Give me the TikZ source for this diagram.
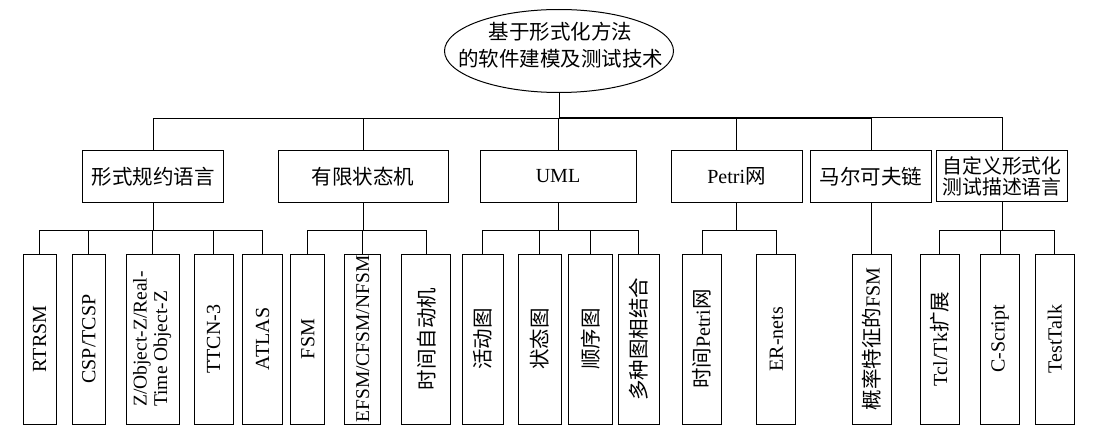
\documentclass[tikz,border=0pt]{standalone}
\usepackage{fontspec}
\usepackage{graphicx}
\setmainfont{Liberation Serif}
\newfontfamily\cjk[Scale=1.025]{Noto Sans CJK SC}
\usetikzlibrary{shapes.geometric}
\newcommand{\zh}[1]{{\cjk #1}}
\newcommand{\vtext}[1]{\rotatebox{90}{#1}}

\begin{document}
\begin{tikzpicture}[x=1pt, y=-1pt, line width=1pt,
    font=\fontsize{20}{24}\selectfont,
    mid/.style={draw, minimum height=51.6pt, inner sep=0pt, align=center},
    leaf/.style={draw, minimum height=170pt, inner sep=0pt},
    busedge/.style={to path={(\tikztostart.south) |- ([yshift=#1]\tikztotarget.north) -- (\tikztotarget.north)}}]
    \useasboundingbox (0,0) rectangle (1097,433);

    \node[draw, ellipse, minimum width=229pt, minimum height=83pt, inner sep=0pt,
      label={[align=center, font=\fontsize{20}{26.7}\selectfont, yshift=6pt, xshift=1.5pt]center:\zh{基于形式化方法}\\\zh{的软件建模及测试技术}}]
      (root) at (559,51) {};

    \node[mid, minimum width=141pt] (formal) at (153,176.5) {\zh{形式规约语言}};
    \node[mid, minimum width=170pt] (finite) at (363,176.5) {\zh{有限状态机}};
    \node[mid, minimum width=156pt] (uml) at (558,176.5) {UML};
    \node[mid, minimum width=131pt] (petri) at (736.5,176.5) {Petri\zh{网}};
    \node[mid, minimum width=121.5pt] (markov) at (871,176.5) {\zh{马尔可夫链}};
    \node[mid, minimum width=131pt, font=\fontsize{19.4}{21}\selectfont] (custom) at (1002,176)
      {\zh{自定义形式化}\\\zh{测试描述语言}};

    \node[leaf, minimum width=32.7pt] (rtrsm) at (39.7,339) {\vtext{RTRSM}};
    \node[leaf, minimum width=33pt] (csp) at (88.8,339) {\vtext{CSP/TCSP}};
    \node[leaf, minimum width=53.3pt] (objz) at (152.7,339)
      {\vtext{\fontsize{19.5}{20.5}\selectfont\begin{tabular}{@{}l@{}}Z/Object-Z/Real-\\Time Object-Z\end{tabular}}};
    \node[leaf, minimum width=39.3pt] (ttcn) at (213.7,339) {\vtext{TTCN-3}};
    \node[leaf, minimum width=40pt] (atlas) at (262.7,339) {\vtext{ATLAS}};
    \node[leaf, minimum width=34.3pt] (fsm) at (307.8,339) {\vtext{FSM}};
    \node[leaf, minimum width=35.7pt, font=\fontsize{19.5}{24}\selectfont] (efsm) at (362.7,339) {\vtext{EFSM/CFSM/NFSM}};
    \node[leaf, minimum width=49pt] (timedauto) at (426.2,339) {\vtext{\zh{时间自动机}}};
    \node[leaf, minimum width=41pt] (activity) at (482.8,339) {\vtext{\zh{活动图}}};
    \node[leaf, minimum width=43.3pt] (state) at (539.7,339) {\vtext{\zh{状态图}}};
    \node[leaf, minimum width=44pt] (sequence) at (590.7,339) {\vtext{\zh{顺序图}}};
    \node[leaf, minimum width=41pt] (combined) at (638.8,339) {\vtext{\zh{多种图相结合}}};
    \node[leaf, minimum width=39pt] (timedpetri) at (702.2,339) {\vtext{\zh{时间}Petri\zh{网}}};
    \node[leaf, minimum width=39.3pt] (ernets) at (776.3,339) {\vtext{ER-nets}};
    \node[leaf, minimum width=38.7pt] (probfsm) at (871.7,339) {\vtext{\zh{概率特征的}FSM}};
    \node[leaf, minimum width=39pt] (tcltk) at (939.5,339) {\vtext{Tcl/Tk\zh{扩展}}};
    \node[leaf, minimum width=39.3pt] (cscript) at (1000,339) {\vtext{C-Script}};
    \node[leaf, minimum width=38.7pt] (testtalk) at (1054.7,339) {\vtext{TestTalk}};

    % first level
    \path (root) edge[busedge=31.7pt] (formal); \path (root) edge[busedge=31.7pt] (finite);
    \path (root) edge[busedge=31.7pt] (uml); \path (root) edge[busedge=31.7pt] (petri);
    \path (root) edge[busedge=31.7pt] (markov); \path (root) edge[busedge=31.7pt] (custom);

    % second level
    \path (formal) edge[busedge=23pt] (rtrsm); \path (formal) edge[busedge=23pt] (csp);
    \path (formal) edge[busedge=23pt] (objz); \path (formal) edge[busedge=23pt] (ttcn);
    \path (formal) edge[busedge=23pt] (atlas);
    \path (finite) edge[busedge=23pt] (fsm); \path (finite) edge[busedge=23pt] (efsm);
    \path (finite) edge[busedge=23pt] (timedauto);
    \path (uml) edge[busedge=23pt] (activity); \path (uml) edge[busedge=23pt] (state);
    \path (uml) edge[busedge=23pt] (sequence); \path (uml) edge[busedge=23pt] (combined);
    \path (petri) edge[busedge=23pt] (timedpetri); \path (petri) edge[busedge=23pt] (ernets);
    \path (markov) edge[busedge=23pt] (probfsm);
    \path (custom) edge[busedge=23pt] (tcltk); \path (custom) edge[busedge=23pt] (cscript);
    \path (custom) edge[busedge=23pt] (testtalk);
\end{tikzpicture}
\end{document}
